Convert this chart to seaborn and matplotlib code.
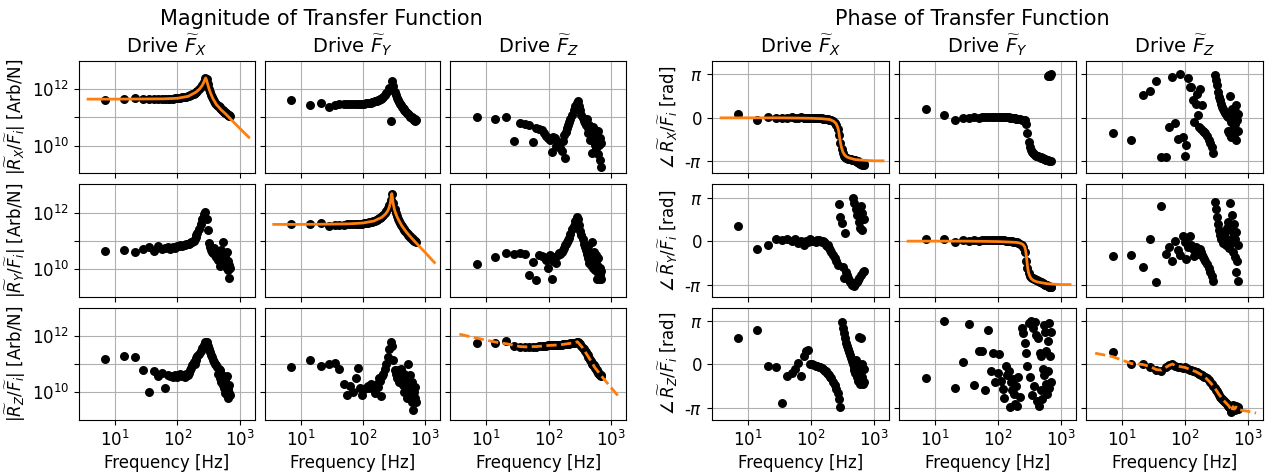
import numpy as np
import matplotlib
matplotlib.use('Agg')
import matplotlib.pyplot as plt
from matplotlib.ticker import NullLocator
import seaborn as sns

# drive frequencies of the measurement [Hz]
freq = [7, 14, 21, 28, 35, 42, 49, 56, 63, 70,
        77, 84, 91, 98, 105, 112, 119, 126, 133, 140,
        147, 154, 161, 168, 175, 182, 189, 196, 203, 210,
        224, 238, 252, 266, 280, 294, 308, 322, 336, 350,
        364, 378, 392, 406, 420, 434, 448, 462, 476, 490,
        504, 518, 532, 546, 560, 574, 588, 602, 616, 630,
        644, 658, 672, 686, 700]

# magnitudes, log10 of |R/F| [Arb/N]
mag_rx_fx = [11.63, 11.64, 11.69, 11.65, 11.65, 11.65, 11.66, 11.66, 11.66, 11.67,
             11.67, 11.67, 11.68, 11.68, 11.69, 11.70, 11.71, 11.72, 11.73, 11.74,
             11.75, 11.77, 11.78, 11.80, 11.82, 11.84, 11.86, 11.89, 11.91, 11.94,
             12.00, 12.07, 12.15, 12.25, 12.40, 12.35, 12.18, 12.02, 11.90, 11.80,
             11.72, 11.64, 11.58, 11.53, 11.49, 11.45, 11.42, 11.39, 11.36, 11.33,
             11.30, 11.27, 11.25, 11.22, 11.20, 11.18, 11.16, 11.15, 11.13, 11.12,
             11.10, 11.09, 11.08, 11.07, 11.06]
mag_rx_fy = [11.62, 11.44, 11.52, 11.38, 11.45, 11.46, 11.47, 11.47, 11.46, 11.48,
             11.48, 11.48, 11.49, 11.49, 11.49, 11.50, 11.51, 11.52, 11.53, 11.54,
             11.55, 11.57, 11.58, 11.60, 11.61, 11.63, 11.65, 11.67, 11.70, 11.72,
             11.78, 11.85, 11.93, 12.05, 10.87, 12.29, 12.10, 11.92, 11.80, 11.70,
             11.62, 11.55, 11.49, 11.43, 11.38, 11.33, 11.30, 11.26, 11.23, 11.20,
             11.17, 11.14, 11.11, 11.08, 11.05, 11.03, 11.00, 10.98, 11.02, 10.95,
             10.97, 10.90, 10.93, 10.88, 10.90]
mag_rx_fz = [11.03, 10.95, 11.02, 10.18, 10.79, 10.76, 10.73, 10.13, 10.64, 10.59,
             10.55, 10.44, 10.36, 10.27, 10.21, 9.78, 10.32, 10.29, 9.98, 10.09,
             10.01, 9.92, 9.83, 10.15, 10.38, 9.57, 10.50, 10.61, 10.73, 10.84,
             10.96, 11.10, 11.25, 11.40, 11.51, 11.58, 11.42, 11.25, 11.10, 10.98,
             10.89, 10.79, 10.73, 10.94, 10.61, 10.44, 10.73, 10.21, 10.55, 10.38,
             9.75, 10.67, 10.27, 10.03, 10.55, 9.92, 10.40, 10.15, 9.69, 10.52,
             10.01, 9.51, 10.27, 9.25, 10.09]
mag_ry_fx = [10.65, 10.67, 10.62, 10.72, 10.77, 10.65, 10.83, 10.72, 10.74, 10.77,
             10.72, 10.79, 10.76, 10.83, 10.80, 10.84, 10.82, 10.85, 10.86, 10.87,
             10.88, 10.90, 10.92, 10.94, 10.97, 11.01, 11.06, 11.12, 11.19, 11.27,
             11.43, 11.60, 11.78, 11.95, 12.01, 11.78, 11.37, 10.91, 10.79, 10.67,
             10.62, 10.56, 10.73, 10.50, 10.44, 10.62, 10.33, 10.50, 10.12, 10.38,
             10.67, 10.27, 10.50, 10.97, 10.21, 10.44, 10.09, 10.33, 10.62, 10.03,
             10.27, 9.98, 10.15, 9.67, 10.03]
mag_ry_fy = [11.60, 11.60, 11.63, 11.52, 11.57, 11.57, 11.57, 11.58, 11.58, 11.59,
             11.59, 11.60, 11.60, 11.61, 11.62, 11.63, 11.64, 11.65, 11.66, 11.68,
             11.69, 11.71, 11.73, 11.75, 11.77, 11.79, 11.81, 11.84, 11.87, 11.90,
             11.97, 12.05, 12.15, 12.28, 12.45, 12.65, 12.35, 12.12, 11.97, 11.86,
             11.77, 11.69, 11.62, 11.56, 11.51, 11.47, 11.42, 11.38, 11.34, 11.31,
             11.27, 11.24, 11.21, 11.18, 11.16, 11.13, 11.11, 11.09, 11.07, 11.05,
             11.03, 11.01, 11.00, 10.98, 10.97]
mag_ry_fz = [10.18, 10.42, 10.58, 10.53, 10.58, 10.54, 9.80, 10.24, 9.62, 10.50,
             10.47, 10.44, 10.32, 10.03, 10.50, 9.66, 10.27, 10.44, 10.21, 10.50,
             10.55, 10.52, 10.61, 10.67, 10.75, 10.84, 10.90, 10.96, 11.02, 11.10,
             11.25, 11.40, 11.54, 11.69, 11.83, 11.77, 11.56, 11.36, 11.19, 11.05,
             10.90, 10.79, 10.67, 10.52, 10.82, 10.38, 10.21, 10.52, 10.13, 10.36,
             10.96, 10.03, 10.61, 10.27, 9.98, 10.50, 9.66, 10.15, 9.86, 10.38,
             9.66, 10.03, 9.80, 9.63, 9.92]
mag_rz_fx = [11.19, 11.28, 11.24, 10.80, 10.02, 10.74, 10.57, 10.70, 10.16, 10.63,
             10.58, 10.53, 10.63, 10.55, 10.60, 10.66, 10.58, 10.63, 10.53, 10.65,
             10.60, 10.70, 10.78, 10.86, 10.95, 11.09, 11.01, 11.13, 11.21, 11.28,
             11.36, 11.45, 11.56, 11.67, 11.79, 11.77, 11.65, 11.53, 11.42, 11.33,
             11.24, 11.15, 11.07, 11.01, 10.95, 10.90, 10.66, 10.84, 10.49, 10.78,
             10.37, 10.63, 10.26, 10.51, 10.14, 10.43, 9.97, 10.31, 9.91, 10.58,
             10.12, 9.81, 10.26, 9.99, 9.91]
mag_rz_fy = [10.88, 11.13, 10.92, 11.01, 11.03, 10.81, 10.31, 9.91, 10.23, 10.00,
             10.49, 10.87, 10.16, 9.91, 10.12, 10.16, 10.23, 10.14, 10.28, 10.14,
             10.23, 9.97, 10.23, 10.31, 10.20, 10.49, 10.40, 9.88, 10.58, 10.66,
             10.84, 11.01, 11.24, 11.53, 11.79, 11.65, 11.13, 10.78, 10.66, 10.49,
             10.78, 10.37, 10.60, 10.84, 10.49, 10.26, 10.66, 10.02, 10.37, 10.14,
             9.79, 10.49, 11.01, 10.20, 9.91, 10.60, 10.08, 9.67, 10.37, 9.91,
             9.38, 10.02, 9.79, 10.20, 9.67]
mag_rz_fz = [11.75, 11.76, 11.80, 11.63, 11.60, 11.60, 11.61, 11.62, 11.62, 11.63,
             11.63, 11.64, 11.65, 11.66, 11.66, 11.66, 11.66, 11.67, 11.67, 11.68,
             11.68, 11.69, 11.69, 11.70, 11.70, 11.70, 11.71, 11.71, 11.71, 11.72,
             11.73, 11.74, 11.75, 11.76, 11.78, 11.79, 11.76, 11.70, 11.64, 11.58,
             11.53, 11.48, 11.42, 11.37, 11.32, 11.26, 11.20, 11.15, 11.10, 11.05,
             11.00, 10.95, 10.96, 10.88, 10.85, 10.84, 10.78, 10.75, 10.72, 10.68,
             10.66, 10.63, 10.61, 10.60, 10.58]

# phases, in units of pi
phase_rx_fx = [0.09, -0.04, 0.02, 0.00, -0.01, 0.00, 0.01, 0.00, 0.00, 0.01,
               0.00, 0.00, 0.00, 0.00, 0.00, 0.00, -0.01, -0.01, -0.01, -0.01,
               -0.01, -0.02, -0.02, -0.02, -0.02, -0.03, -0.03, -0.04, -0.05, -0.06,
               -0.08, -0.11, -0.16, -0.25, -0.40, -0.58, -0.72, -0.82, -0.87, -0.90,
               -0.92, -0.93, -0.94, -0.94, -0.95, -0.95, -0.96, -0.97, -0.96, -0.98,
               -0.97, -1.00, -0.99, -1.02, -1.00, -1.04, -1.03, -1.06, -1.05, -1.07,
               -1.06, -1.08, -1.07, -1.08, -1.07]
phase_rx_fy = [0.20, 0.06, -0.05, 0.00, 0.00, 0.01, 0.00, 0.01, 0.01, 0.02,
               0.02, 0.02, 0.02, 0.02, 0.01, 0.01, 0.01, 0.01, 0.01, 0.01,
               0.01, 0.00, 0.00, 0.00, 0.00, -0.01, -0.01, -0.02, -0.02, -0.02,
               -0.03, -0.04, -0.05, -0.06, -0.15, -0.35, -0.55, -0.68, -0.75, -0.79,
               -0.82, -0.84, -0.86, -0.87, -0.88, -0.89, -0.90, -0.90, -0.91, -0.92,
               -0.92, -0.93, -0.94, -0.94, -0.95, -0.96, -0.96, -0.97, 0.96, -0.98,
               0.99, -0.99, 0.97, -1.00, 1.00]
phase_rx_fz = [-0.35, -0.51, 0.53, 0.62, 0.86, -0.90, -0.90, -0.22, 0.94, -0.11,
               -0.49, 1.00, -0.43, -0.88, -0.63, 0.91, 0.72, 0.70, 0.40, -0.09,
               0.32, 0.55, 0.06, -0.20, 0.66, -0.25, 0.29, -0.30, -0.33, -0.36,
               -0.42, -0.50, -0.58, -0.68, -0.82, 0.98, 0.88, 0.75, 0.60, 0.48,
               0.40, 0.32, 0.25, 0.20, 0.15, 0.12, 0.08, 0.05, -0.30, 0.02,
               -0.35, 0.51, -0.10, -0.45, 0.20, -0.25, 0.05, -0.40, 0.15, -0.15,
               -0.50, 0.30, -0.05, -0.30, 0.10]
phase_ry_fx = [0.34, -0.19, -0.10, 0.05, 0.02, 0.04, 0.00, 0.05, -0.04, 0.00,
               -0.08, 0.00, -0.02, 0.06, 0.01, 0.00, -0.03, 0.02, 0.03, 0.00,
               -0.02, 0.01, -0.02, -0.04, -0.08, -0.12, -0.10, -0.16, -0.20, -0.24,
               -0.33, -0.38, -0.45, -0.55, 0.86, 0.56, 0.41, -0.60, -0.86, 0.18,
               -0.70, -0.78, -0.85, -0.90, -0.94, -0.97, -1.00, 1.00, -1.03, 0.88,
               -0.98, 0.75, -0.95, 0.60, -0.90, 0.45, -0.85, 0.30, 0.80, -0.78,
               0.65, 0.25, -0.70, 0.50, -0.68]
phase_ry_fy = [0.06, 0.05, -0.02, 0.02, 0.01, 0.02, 0.01, 0.02, 0.02, 0.02,
               0.02, 0.03, 0.02, 0.02, 0.02, 0.02, 0.02, 0.02, 0.01, 0.01,
               0.01, 0.00, 0.00, 0.00, -0.01, -0.01, -0.02, -0.03, -0.03, -0.04,
               -0.06, -0.09, -0.14, -0.25, -0.45, -0.62, -0.74, -0.80, -0.83, -0.85,
               -0.86, -0.87, -0.88, -0.89, -0.90, -0.91, -0.92, -0.93, -0.94, -0.95,
               -0.96, -0.97, -0.98, -0.99, -1.00, -1.01, -1.02, -1.02, -1.03, -1.04,
               -1.04, -1.05, -1.05, -1.06, -1.06]
phase_ry_fz = [-0.34, -0.31, -0.60, 0.04, -0.94, 0.80, -0.30, -0.13, -0.46, 0.00,
               -0.21, -0.32, 0.13, -0.02, -0.40, -0.14, 0.13, -0.10, -0.17, -0.35,
               -0.14, -0.24, -0.30, -0.24, -0.18, -0.25, -0.32, -0.36, -0.40, -0.46,
               -0.52, -0.62, -0.70, -0.80, -0.92, 0.90, 0.75, 0.55, 0.40, 0.25,
               0.15, 0.05, 0.10, -0.05, 0.12, 0.20, -0.10, 0.30, 0.02, 0.45,
               -0.15, 0.88, 0.25, -0.05, 0.60, -0.25, 0.10, 0.40, -0.36, 0.05,
               -0.70, 0.20, -0.45, -0.91, -0.10]
phase_rz_fx = [0.60, 0.80, -0.04, -0.06, -0.89, -0.26, -0.20, -0.11, 0.04, -0.26,
               0.19, 0.30, 0.34, 0.02, 0.00, -0.01, -0.03, -0.04, -0.05, -0.07,
               -0.08, -0.10, -0.12, -0.14, -0.16, -0.19, -0.22, -0.25, -0.28, -0.31,
               -0.40, -0.48, -0.56, -0.66, -0.80, -0.98, 0.98, 0.85, 0.72, 0.60,
               0.50, 0.42, 0.35, 0.28, 0.22, 0.15, 0.08, 0.02, -0.05, -0.12,
               -0.20, 0.10, -0.30, -0.05, -0.38, 0.64, -0.22, -0.45, 0.60, -0.15,
               -0.30, 0.00, -0.45, -0.40, -0.10]
phase_rz_fy = [-0.31, 1.00, -0.54, 0.05, 0.94, -0.47, 0.31, 0.31, -0.60, 0.80,
               -0.14, 0.27, -0.41, -0.20, 0.23, -0.37, -0.56, -0.77, -0.03, -0.24,
               -0.14, -0.97, -0.41, -0.60, -0.33, -0.68, -0.92, -0.50, -0.95, -0.30,
               -0.75, 0.84, 0.72, 0.50, 0.27, -0.03, 0.95, -0.30, 1.00, -0.70,
               0.85, -0.50, 0.98, 0.67, -0.85, 0.60, -0.95, 0.27, -0.60, 0.20,
               -0.80, -0.10, 0.90, -0.25, 0.75, -0.45, 0.30, -0.68, 0.55, -0.15,
               0.95, -0.55, 0.20, -0.40, 0.75]
phase_rz_fz = [0.29, 0.00, 0.00, -0.05, -0.13, -0.14, -0.07, -0.02, 0.02, -0.03,
               -0.07, -0.05, -0.08, -0.07, -0.09, -0.10, -0.12, -0.13, -0.14, -0.16,
               -0.17, -0.18, -0.19, -0.21, -0.22, -0.24, -0.25, -0.26, -0.28, -0.29,
               -0.32, -0.36, -0.41, -0.45, -0.50, -0.55, -0.58, -0.62, -0.66, -0.71,
               -0.74, -0.77, -0.80, -0.82, -0.84, -0.86, -0.89, -0.91, -0.93, -0.95,
               -0.97, -1.00, -1.05, -1.10, -1.02, -0.93, -1.00, -0.95, -1.05, -0.98,
               -1.02, -0.96, -1.03, -0.99, -1.02]

# model fits on the diagonal
fit_freq_x = [3.7, 10, 30, 60, 100, 150, 200, 230, 250, 265, 275, 285,
              295, 305, 320, 340, 370, 420, 500, 600, 750, 1000, 1400]
fit_mag_rx_fx = [11.65, 11.65, 11.655, 11.66, 11.68, 11.75, 11.90, 12.02, 12.13, 12.24, 12.33, 12.40,
                 12.32, 12.20, 12.04, 11.87, 11.68, 11.47, 11.28, 11.12, 10.90, 10.62, 10.30]
fit_phase_rx_fx = [0.0, 0.0, 0.0, -0.005, -0.01, -0.02, -0.04, -0.08, -0.13, -0.21, -0.30, -0.45,
                   -0.58, -0.68, -0.78, -0.85, -0.90, -0.93, -0.96, -0.97, -0.98, -0.99, -0.99]
fit_freq_y = [3.7, 10, 30, 60, 100, 150, 200, 230, 250, 265, 275, 285,
              290, 295, 305, 320, 340, 370, 420, 500, 600, 750, 1000, 1400]
fit_mag_ry_fy = [11.58, 11.58, 11.59, 11.60, 11.63, 11.70, 11.83, 11.95, 12.06, 12.20, 12.35, 12.58,
                 12.67, 12.55, 12.32, 12.10, 11.93, 11.75, 11.53, 11.30, 11.10, 10.87, 10.58, 10.23]
fit_phase_ry_fy = [0.0, 0.0, 0.0, -0.005, -0.01, -0.02, -0.03, -0.05, -0.08, -0.13, -0.22, -0.40,
                   -0.50, -0.60, -0.72, -0.81, -0.87, -0.91, -0.94, -0.96, -0.98, -0.99, -1.0, -1.0]
fit_freq_z = [3.7, 7, 14, 21, 28, 35, 42, 49, 56, 63, 70, 84,
              100, 150, 200, 250, 290, 350, 450, 550, 700, 1000, 1350]
fit_mag_rz_fz = [12.06, 11.92, 11.78, 11.72, 11.66, 11.62, 11.61, 11.61, 11.62, 11.62, 11.63, 11.64,
                 11.66, 11.68, 11.72, 11.75, 11.79, 11.58, 11.20, 10.88, 10.58, 10.17, 9.83]
fit_freq_zp = [3.7, 7, 14, 21, 28, 35, 42, 49, 56, 63, 70, 84, 100, 150, 200,
               250, 300, 350, 400, 450, 500, 530, 550, 580, 610, 650, 700, 1000, 1350]
fit_phase_rz_fz = [0.26, 0.18, 0.02, 0.0, -0.05, -0.12, -0.13, -0.07, -0.02, 0.01, -0.03, -0.05, -0.07, -0.17, -0.27,
                   -0.41, -0.55, -0.70, -0.81, -0.89, -0.96, -1.02, -1.08, -0.97, -1.03, -0.98, -1.04, -1.08, -1.12]

axes_names = ['X', 'Y', 'Z']

mag_data = [[mag_rx_fx, mag_rx_fy, mag_rx_fz],
            [mag_ry_fx, mag_ry_fy, mag_ry_fz],
            [mag_rz_fx, mag_rz_fy, mag_rz_fz]]
phase_data = [[phase_rx_fx, phase_rx_fy, phase_rx_fz],
              [phase_ry_fx, phase_ry_fy, phase_ry_fz],
              [phase_rz_fx, phase_rz_fy, phase_rz_fz]]
mag_fits = {0: (fit_freq_x, fit_mag_rx_fx, '-'),
            1: (fit_freq_y, fit_mag_ry_fy, '-'),
            2: (fit_freq_z, fit_mag_rz_fz, '--')}
phase_fits = {0: (fit_freq_x, fit_phase_rx_fx, '-'),
              1: (fit_freq_y, fit_phase_ry_fy, '-'),
              2: (fit_freq_zp, fit_phase_rz_fz, '--')}

plt.rcParams['font.size'] = 12
plt.rcParams['axes.titlesize'] = 14
plt.rcParams['axes.labelsize'] = 12
plt.rcParams['axes.labelpad'] = 3

W, H = 1286, 475
fig = plt.figure(figsize=(W / 100, H / 100), dpi=100)


def draw_group(left, right, data, fits, is_mag):
    gs = fig.add_gridspec(3, 3, left=left / W, right=right / W, top=1 - 61 / H,
                          bottom=1 - 420 / H, wspace=0.057, hspace=0.097)
    ax0 = None
    axs = []
    for r in range(3):
        for c in range(3):
            ax = fig.add_subplot(gs[r, c], sharex=ax0, sharey=ax0)
            if ax0 is None:
                ax0 = ax
                ax.set_xscale('log')
                if is_mag:
                    ax.set_yscale('log')
            vals = np.asarray(data[r][c])
            y = 10 ** vals if is_mag else vals * np.pi
            sns.scatterplot(x=freq, y=y, ax=ax, color='k', s=42, linewidth=0, zorder=3)
            if r == c:
                ff, fv, ls = fits[r]
                fv = np.asarray(fv)
                fy = 10 ** fv if is_mag else fv * np.pi
                sns.lineplot(x=ff, y=fy, ax=ax, color='#ff7f0e', lw=2, linestyle=ls,
                             estimator=None, sort=False, zorder=4)
            ax.grid(True, color='#b0b0b0', lw=0.8)
            ax.set_axisbelow(True)
            if r == 0:
                ax.set_title('Drive $\\widetilde{F}_%s$' % axes_names[c])
            if r == 2:
                ax.set_xlabel('Frequency [Hz]')
            else:
                ax.set_xlabel('')
                ax.tick_params(labelbottom=False)
            if c == 0:
                if is_mag:
                    ax.set_ylabel('$|\\widetilde{R}_%s/\\widetilde{F}_i|$ [Arb/N]' % axes_names[r])
                else:
                    ax.set_ylabel('$\\angle\\,\\widetilde{R}_%s/\\widetilde{F}_i$ [rad]' % axes_names[r])
            else:
                ax.set_ylabel('')
                ax.tick_params(labelleft=False)
            axs.append(ax)

    ax0.set_xticks([10, 100, 1000])
    ax0.xaxis.set_minor_locator(NullLocator())
    ax0.set_xlim(2.65, 1740)
    if is_mag:
        ax0.set_yticks([1e10, 1e11, 1e12], ['$10^{10}$', '', '$10^{12}$'])
        ax0.yaxis.set_minor_locator(NullLocator())
        ax0.set_ylim(10 ** 9.02, 10 ** 13.0)
    else:
        ax0.set_yticks([-np.pi, 0, np.pi], ['-$\\pi$', '0', '$\\pi$'])
        ax0.set_ylim(-1.28 * np.pi, 1.31 * np.pi)
    return axs


draw_group(79, 626, mag_data, mag_fits, True)
draw_group(712, 1263, phase_data, phase_fits, False)

fig.text(321 / W, 1 - 19 / H, 'Magnitude of Transfer Function', ha='center', va='center', fontsize=15)
fig.text(972 / W, 1 - 19 / H, 'Phase of Transfer Function', ha='center', va='center', fontsize=15)

fig.savefig('out.png', dpi=100)
